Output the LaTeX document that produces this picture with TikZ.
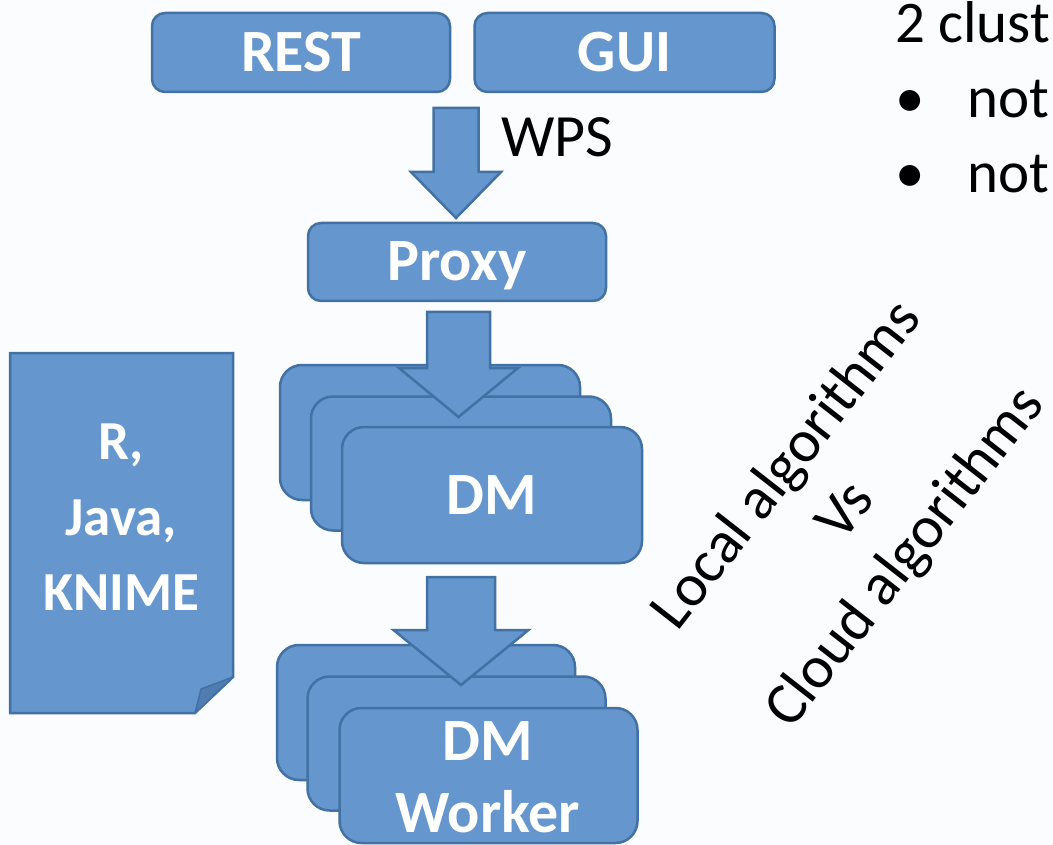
\documentclass[tikz,border=0pt]{standalone}
\usepackage{fontspec}
\setmainfont{Carlito}
\usetikzlibrary{calc}
\definecolor{boxfill}{RGB}{102,150,206}
\definecolor{boxline}{RGB}{66,113,163}
\definecolor{foldfill}{RGB}{80,124,178}
\definecolor{bgc}{RGB}{251,252,254}
\newcommand\blockarrow[5]{%
  \draw[arrowbox] let \p1=(#1), \p2=(#2) in
    (\x1-#3pt,\y1) -- (\x1+#3pt,\y1) -- (\x1+#3pt,\y2+#5pt) -- (\x1+#4pt,\y2+#5pt)
    -- (\x2,\y2) -- (\x1-#4pt,\y2+#5pt) -- (\x1-#3pt,\y2+#5pt) -- cycle;}
\begin{document}
\begin{tikzpicture}[x=1pt,y=-1pt,
  box/.style={draw=boxline, fill=boxfill, line width=2.5pt, rounded corners=#1,
    inner sep=0pt, text=white, font=\bfseries\fontsize{60}{72}\selectfont,
    text height=38pt, text depth=0pt},
  box/.default=13pt,
  arrowbox/.style={draw=boxline, fill=boxfill, line width=2.5pt, line join=miter},
  wlbl/.style={text=white, inner sep=0pt, anchor=base},
  blbl/.style={text=black, inner sep=0pt, anchor=base west}]
\useasboundingbox (0,0) rectangle (1053,845);
\clip (0,0) rectangle (1053,845);
\fill[bgc] (0,0) rectangle (1053,845);

% top row
\node[box, minimum width=298pt, minimum height=79pt] (rest) at (301,52.5) {REST};
\node[box, minimum width=300pt, minimum height=79pt] (gui) at (624.5,52.5) {GUI};
\node[box, minimum width=298pt, minimum height=78pt] (proxy) at (457,262) {Proxy};

% DM stack
\node[box=22pt, minimum width=300pt, minimum height=135pt] (dm1) at (430,432.5) {};
\node[box=22pt, minimum width=300pt, minimum height=134pt] (dm2) at (461,463.5) {};
\node[box=22pt, minimum width=300pt, minimum height=136pt] (dm3) at (492,495) {DM};

% DM worker stack
\node[box=22pt, minimum width=298pt, minimum height=135pt] (wk1) at (426,712.5) {};
\node[box=22pt, minimum width=298pt, minimum height=134pt] (wk2) at (456.5,743.5) {};
\node[box=22pt, minimum width=298pt, minimum height=135pt] (wk3) at (488.5,775.5) {};
\node[wlbl, font=\bfseries\fontsize{60}{72}\selectfont] (wkdm) at (488,760) {DM};
\node[wlbl, font=\bfseries\fontsize{60}{72}\selectfont] (wkw) at (488,832) {Worker};

% block arrows
\coordinate (a1top) at (456,108);
\coordinate (a1tip) at (456,218);
\coordinate (a2top) at (458.5,312);
\coordinate (a2tip) at (458.5,417);
\coordinate (a3top) at (461,577);
\coordinate (a3tip) at (461,685);
\blockarrow{a1top}{a1tip}{22.5}{45}{46}
\blockarrow{a2top}{a2tip}{31.5}{59.5}{49}
\blockarrow{a3top}{a3tip}{34}{67.5}{55}
\node[blbl, font=\fontsize{60}{72}\selectfont] (wps) at (501,157) {WPS};

% document shape
\draw[arrowbox] (10,353) -- (233,353) -- (233,677) -- (195,713) -- (10,713) -- cycle;
\draw[draw=boxline, fill=foldfill, line width=1.5pt, line join=round] (233,677) -- (201,689) -- (195,713) -- cycle;
\node[wlbl, font=\bfseries\fontsize{55}{72}\selectfont] (dr) at (121,459) {R,};
\node[wlbl, font=\bfseries\fontsize{55}{72}\selectfont] (dj) at (121,535) {Java,};
\node[wlbl, font=\bfseries\fontsize{55}{72}\selectfont] (dk) at (121,610) {KNIME};

% rotated comparison text
\node[rotate=52, align=center, inner sep=0pt, font=\fontsize{60}{75}\selectfont] (cmp)
  at (847,512) {Local algorithms\\Vs\\Cloud algorithms};

% top right text (cut by the picture edge)
\node[blbl, font=\fontsize{59}{72}\selectfont] (clu) at (895,43) {2 clust};
\node[blbl, font=\fontsize{59}{72}\selectfont] (b1) at (895,118) {•};
\node[blbl, font=\fontsize{59}{72}\selectfont] (n1) at (967,118) {not};
\node[blbl, font=\fontsize{59}{72}\selectfont] (b2) at (895,193) {•};
\node[blbl, font=\fontsize{59}{72}\selectfont] (n2) at (967,193) {not};
\end{tikzpicture}
\end{document}
